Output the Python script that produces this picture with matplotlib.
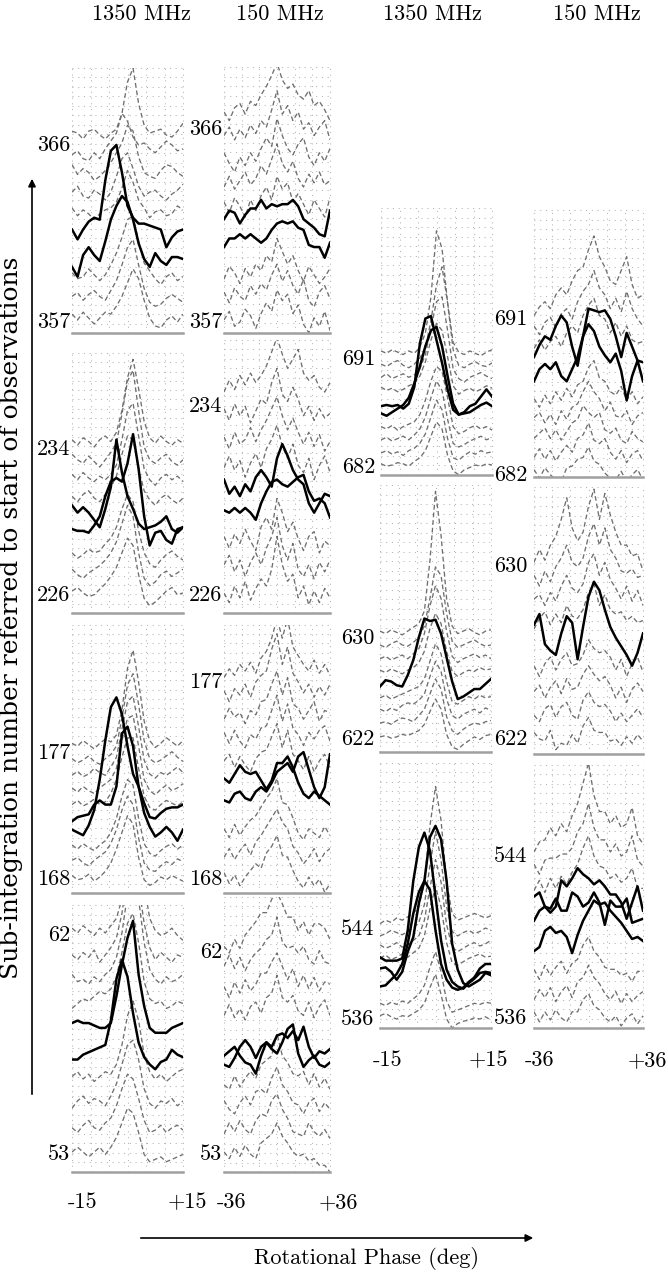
import numpy as np
import matplotlib
import matplotlib.pyplot as plt
from matplotlib.patches import FancyArrowPatch

plt.rcParams['font.family'] = ['cmr10', 'DejaVu Serif']
plt.rcParams['axes.unicode_minus'] = False

W, H = 668, 1277

# ---------------- phase axes (deg) ----------------
phase_1350 = np.linspace(-15, 15, 21)
phase_150 = np.linspace(-36, 36, 21)

# Profiles: values in tenths of a sub-integration unit above the profile's base
# ---------- 357-366, 1350 MHz ----------
a1_base = [357, 358, 359, 362, 363, 364, 365, 366]
a1_dash = [
    [3, 0, 4, 1, -2, 1, 4, 3, 7, 12, 19, 26, 21, 10, 1, -3, -4, 0, 2, -1, 3],
    [2, 4, 0, 3, 5, 2, 0, 5, 10, 18, 27, 31, 18, 6, -1, -3, -2, 1, 3, 1, -1],
    [4, 1, 2, 6, 3, 0, 3, 8, 14, 22, 31, 33, 20, 9, 5, 1, -2, 2, 4, 0, 2],
    [7, 3, 6, 4, 1, 4, 6, 7, 10, 17, 26, 20, 11, 7, 2, 5, 6, 3, 4, 8, 6],
    [5, 8, 3, 2, 6, 4, 1, 5, 13, 22, 25, 17, 8, 3, 5, 6, 3, 1, 4, 6, 9],
    [9, 4, 7, 5, 1, 3, 6, 10, 15, 20, 29, 26, 13, 5, 3, 2, 6, 9, 8, 5, 3],
    [4, 6, 2, 1, 5, 2, 7, 11, 15, 25, 21, 13, 9, 10, 7, 5, 8, 11, 9, 6, 7],
    [6, 5, 2, 6, 7, 4, 2, 5, 7, 15, 31, 38, 20, 9, 5, 6, 7, 4, 3, 6, 10],
]
a1_black_base = [360, 361]
a1_black = [
    [-3, -8, 3, 7, 3, 0, 10, 21, 28, 33, 30, 21, 9, 1, -3, 4, 0, -2, 2, 2, 1],
    [6, 1, 6, 10, 12, 11, 31, 46, 49, 35, 18, 12, 9, 9, 8, 7, 6, -3, 2, 5, 6],
]

# ---------- 357-366, 150 MHz ----------
b1_base = [357, 358, 359, 362, 363, 364, 365, 366]
b1_dash = [
    [0, 4, -3, -1, 5, 2, -4, 3, 8, 4, 14, 9, 12, 3, 7, -2, -6, 1, -3, 4, -5],
    [3, -2, 5, 1, -1, 6, 2, 7, 4, 11, 16, 8, 13, 6, 2, 9, -1, -4, 3, 6, 0],
    [-1, 5, 2, -3, 4, 0, 6, 3, 10, 7, 18, 12, 6, 10, 3, -2, 5, 1, -3, 0, 4],
    [5, 0, 7, 3, -2, 6, 1, 8, 12, 6, 17, 11, 14, 5, 9, 4, -1, 6, 2, -2, 7],
    [2, 7, 1, 5, 9, 3, 6, 12, 8, 15, 22, 13, 9, 14, 6, 2, 8, 4, 9, 3, 5],
    [8, 3, -1, 6, 2, 8, 4, 10, 15, 11, 24, 16, 10, 7, 12, 15, 6, 2, 8, 4, 10],
    [6, 10, 4, 9, 5, 11, 7, 13, 10, 18, 27, 16, 20, 13, 17, 9, 12, 6, 10, 13, 4],
    [7, 3, 9, 11, 6, 12, 10, 15, 19, 24, 30, 22, 18, 20, 15, 13, 17, 10, 12, 8, 3],
]
b1_black_base = [360, 361]
b1_black = [
    [4, 8, 8, 10, 8, 10, 8, 6, 8, 12, 15, 16, 15, 16, 13, 12, 5, 4, 4, -1, 6],
    [7, 11, 10, 5, 9, 12, 12, 16, 12, 14, 13, 14, 14, 16, 13, 7, 5, 3, 0, -1, 11],
]

# ---------- 226-234, 1350 MHz ----------
a2_base = [226, 227, 228, 231, 232, 233, 234]
a2_dash = [
    [1, 3, 0, -2, -1, 2, 5, 9, 14, 22, 30, 26, 10, -3, -7, -5, -2, 1, 3, -1, 0],
    [3, 0, -2, 1, 3, 5, 8, 12, 18, 28, 38, 32, 12, -2, -6, -4, 0, 2, -1, 1, 3],
    [2, -1, 1, 4, 2, 3, 7, 10, 16, 26, 34, 30, 14, 2, -4, -6, -2, 1, 3, 0, -2],
    [3, 0, 4, 6, 2, 0, 4, 8, 14, 26, 36, 34, 18, 6, 1, -2, 2, 4, 1, -1, 2],
    [5, 2, 6, 3, 1, 4, 2, 5, 10, 24, 40, 44, 26, 8, 2, -1, 3, 5, 2, 4, 1],
    [6, 3, 1, 5, 2, -1, 3, 7, 12, 28, 46, 52, 30, 10, 3, 1, 4, 6, 2, 0, 3],
    [4, 1, 5, 3, 0, 4, 6, 3, 8, 20, 38, 48, 32, 14, 5, 2, 6, 3, 1, 4, 2],
]
a2_black_base = [229, 230]
a2_black = [
    [5, 4, 4, 3, 7, 12, 23, 31, 33, 31, 41, 57, 38, 12, -4, 3, 4, -1, -3, 5, 6],
    [8, 4, 7, 4, 0, -4, 6, 18, 44, 26, 13, 6, -2, -5, -4, -3, -1, 2, -5, -7, -4],
]

# ---------- 226-234, 150 MHz ----------
b2_base = [226, 227, 228, 231, 232, 233, 234]
b2_dash = [
    [0, -4, 3, -2, 5, -3, 2, 6, 3, 10, 24, 12, 5, 8, -2, 3, -5, 1, -4, 2, -2],
    [2, 6, -1, 4, -3, 3, 7, 2, 9, 14, 22, 10, 4, 11, 0, -3, 2, -4, 3, -1, 4],
    [4, -1, 5, 1, 7, 2, -2, 8, 12, 7, 20, 14, 6, 10, 3, -2, 4, 6, -3, 2, 0],
    [3, 8, 2, 6, -1, 5, 9, 3, 11, 15, 21, 12, 7, 13, 4, 1, 7, -2, 4, 8, 1],
    [6, 1, 8, 3, 5, 10, 4, 9, 13, 18, 23, 15, 9, 14, 8, 3, 8, 2, 7, 0, 4],
    [8, 3, 10, 5, 9, 2, 7, 12, 10, 19, 25, 14, 11, 17, 12, 5, 9, 3, 8, 4, 6],
    [5, 10, 6, 12, 8, 13, 9, 12, 16, 22, 28, 21, 15, 19, 23, 13, 10, 12, 7, 5, 9],
]
b2_black_base = [229, 230]
b2_black = [
    [5, 4, 6, 4, 6, 4, 1, 8, 13, 17, 18, 16, 15, 17, 19, 20, 13, 9, 10, 8, 2],
    [8, 2, 5, 1, 6, 3, 9, 12, 9, 5, 17, 23, 18, 12, 8, 6, -2, -6, -2, 2, 1],
]

# ---------- 168-177, 1350 MHz ----------
a3_base = [168, 169, 170, 173, 174, 175, 176, 177]
a3_dash = [
    [1, -2, -1, 2, -3, 0, 4, 10, 20, 32, 44, 38, 14, -2, -6, -4, 0, -2, 1, -1, -3],
    [2, 4, 0, -2, 2, 5, 8, 14, 24, 38, 48, 42, 18, 0, -5, -6, -2, 1, -1, 3, 1],
    [3, 0, 4, 1, -1, 3, 6, 12, 22, 38, 50, 46, 22, 4, -3, -5, -1, 2, 4, 0, 3],
    [2, 5, 1, 3, 6, 2, 4, 10, 20, 36, 50, 50, 28, 8, 0, -2, 2, 5, 3, 1, 4],
    [4, 1, 5, 2, 0, 4, 7, 10, 18, 38, 54, 56, 34, 10, 2, -1, 3, 6, 2, 4, 7],
    [3, 6, 2, 4, 8, 5, 3, 9, 16, 36, 56, 60, 38, 14, 4, 1, 5, 3, 6, 9, 5],
    [5, 2, 4, 7, 3, 1, 5, 8, 14, 34, 58, 66, 44, 18, 5, 2, 4, 7, 10, 6, 3],
    [6, 4, 8, 5, 2, 6, 9, 7, 12, 30, 60, 73, 50, 22, 8, 3, 6, 10, 7, 4, 8],
]
a3_black_base = [171, 172]
a3_black = [
    [10, 13, 14, 15, 22, 25, 22, 22, 35, 73, 78, 64, 35, 16, 6, -1, 2, 6, 2, -4, 4],
    [-6, -8, -10, -3, 8, 30, 58, 82, 89, 77, 54, 34, 25, 13, 3, 2, 6, 9, 10, 10, 12],
]

# ---------- 168-177, 150 MHz ----------
b3_base = [168, 169, 170, 173, 174, 175, 176, 177]
b3_dash = [
    [2, -3, 1, -4, 0, 3, 6, 4, 11, 14, 19, 10, 9, 3, -2, -5, 0, -4, -1, -7, -3],
    [-1, 3, -2, 2, 5, 0, 6, 9, 13, 17, 21, 15, 12, 4, 1, -4, -1, 3, -3, 1, 3],
    [2, -2, 4, -1, 3, 6, 8, 12, 16, 19, 25, 14, 13, 7, 0, -3, 2, 0, -2, 3, -1],
    [3, 6, 0, 5, 1, -2, 4, 7, 8, 14, 20, 9, 17, 6, 3, -1, 5, -2, 3, 6, 0],
    [6, 1, 7, 2, -1, 5, 3, 8, 9, 16, 23, 11, 19, 8, 5, 0, 6, 3, 7, 9, 2],
    [2, 7, 3, 5, 0, 6, 4, 10, 11, 18, 24, 13, 21, 9, 7, 2, 6, 10, 1, 6, 5],
    [5, 0, 6, 3, 8, 2, 9, 12, 14, 24, 31, 17, 25, 13, 9, 4, 8, 2, 7, 3, 8],
    [1, 5, 2, 7, 4, 8, 3, 10, 13, 19, 28, 19, 28, 15, 11, 7, 4, 9, 3, 7, 2],
]
b3_black_base = [171, 172]
b3_black = [
    [5, 4, 8, 9, 6, 5, 9, 11, 9, 13, 18, 20, 22, 18, 25, 27, 19, 11, 6, 11, 26],
    [5, 3, 7, 11, 8, 7, 8, 4, 0, 4, 12, 12, 15, 10, 3, -2, -4, -1, -3, -5, -7],
]

# ---------- 53-62, 1350 MHz ----------
a4_base = [53, 54, 55, 56, 59, 60, 61, 62]
a4_dash = [
    [0, 2, 0, -2, 0, 2, -1, 2, 6, 12, 18, 16, 8, -1, -4, -3, -2, -4, -3, -2, -1],
    [0, -2, 1, 3, 0, -1, 2, 4, 9, 16, 22, 20, 12, 3, -2, -1, 1, -2, 0, 1, -1],
    [-2, 1, 3, 0, 2, 1, -1, 3, 8, 16, 24, 26, 18, 6, 0, -2, 1, 0, 2, -1, 1],
    [1, 3, 0, 2, -1, 1, 3, 2, 6, 14, 26, 32, 24, 10, 3, 0, 2, -1, 1, 3, 4],
    [-1, 1, 3, 2, 4, 6, 5, 7, 12, 22, 34, 38, 26, 10, 3, 1, 2, -1, 0, 2, 1],
    [3, 0, 1, -1, 2, 0, 3, 5, 10, 20, 36, 42, 34, 16, 5, 1, -1, 2, 0, 1, 3],
    [1, -1, 2, 0, 3, -2, 1, 4, 8, 18, 34, 40, 30, 14, 4, -1, 2, 0, -2, 1, 0],
    [2, 0, 3, 1, -1, 2, 0, 3, 6, 14, 30, 45, 38, 20, 6, 1, -1, 0, 2, -1, -3],
]
a4_black_base = [57, 58]
a4_black = [
    [-2, -2, 0, 1, 2, 3, 4, 14, 31, 39, 32, 17, 5, -1, -4, -6, -3, -2, 2, 0, -1],
    [3, 4, 3, 3, 2, 1, 1, 3, 14, 27, 38, 45, 23, 10, 1, -1, -1, -1, 1, 2, 3],
]

# ---------- 53-62, 150 MHz ----------
b4_base = [53, 54, 55, 56, 59, 60, 61, 62]
b4_dash = [
    [0, -3, 2, -2, 3, -1, -3, 4, 6, 8, 13, 7, 4, 0, -2, -1, -4, -3, -6, -6, -9],
    [-2, 3, -1, 4, 0, -2, 4, 7, 6, 13, 16, 9, 5, -1, -2, -3, 3, -1, -3, 0, -4],
    [3, -1, -3, 2, 5, 1, 7, 8, 6, 13, 18, 10, 7, 2, 1, -3, 2, 4, -2, 2, -1],
    [0, -2, 4, -1, 3, 6, 3, 9, 11, 13, 23, 13, 10, 5, 4, 6, 0, 5, -1, 3, -2],
    [1, 6, 0, 4, -1, 5, 7, 2, 9, 11, 19, 9, 7, 10, 3, 1, 7, 0, 5, 8, 1],
    [4, -1, 6, 1, 7, 2, 5, 10, 10, 15, 19, 13, 7, 12, 4, 9, 3, 8, 2, 6, 5],
    [3, 8, 2, 7, 1, 6, 9, 11, 15, 17, 25, 14, 11, 12, 9, 12, 6, 4, 10, 5, 4],
    [2, -1, 5, 1, 7, 10, 13, 17, 17, 23, 26, 21, 15, 15, 9, 13, 7, 12, 12, 10, 5],
]
b4_black_base = [57, 58]
b4_black = [
    [-1, -2, 2, 7, 10, 7, 2, 7, 9, 7, 12, 13, 11, 14, 10, 16, 7, 2, 5, 4, 6],
    [-7, -5, -3, -7, -10, -11, -15, -7, -1, -4, -6, -1, 5, 7, -6, -12, -9, -7, -11, -12, -10],
]

# ---------- 682-691, 1350 MHz ----------
c1_base = [682, 683, 684, 685, 688, 689, 690, 691]
c1_dash = [
    [1, -1, 0, 2, 1, -1, 3, 6, 12, 24, 36, 30, 8, -5, -8, -4, -2, 0, -1, 1, 0],
    [0, 2, -1, 1, -2, 2, 4, 8, 16, 30, 44, 36, 12, -4, -6, -2, 1, -1, 2, 0, 1],
    [1, 3, 0, 2, 4, 1, 5, 10, 20, 36, 50, 42, 18, -2, -5, -3, 0, 2, 4, 1, 3],
    [2, 0, 3, -1, 2, 4, 6, 12, 24, 40, 52, 48, 26, 2, -4, -2, 1, 3, 0, 2, -1],
    [5, 2, 4, 1, 3, 6, 8, 14, 26, 44, 58, 52, 30, 6, -1, 2, 4, 1, 3, 6, 4],
    [3, 6, 2, 4, 6, 3, 5, 10, 22, 44, 66, 70, 42, 10, 2, -1, 3, 5, 7, 4, 2],
    [4, 2, 5, 7, 3, 1, 4, 9, 18, 40, 70, 85, 55, 16, 3, 1, 4, 6, 3, 2, 5],
    [5, 3, 6, 4, 2, 5, 3, 8, 20, 50, 105, 90, 45, 12, 4, 2, 5, 3, 1, 4, 6],
]
c1_black_base = [686, 687]
c1_black = [
    [3, 1, 4, 7, 10, 16, 28, 42, 59, 72, 75, 59, 34, 11, 2, 3, 4, 7, 10, 12, 9],
    [-1, 0, -1, 0, -3, 1, 15, 51, 72, 74, 54, 35, 13, -4, -8, -6, -1, 1, 7, 13, 7],
]

# ---------- 682-691, 150 MHz ----------
d1_base = [682, 683, 684, 685, 686, 689, 690, 691]
d1_dash = [
    [2, -3, 3, -1, -4, -5, 3, 4, 8, 9, 15, 7, 5, 0, -3, -4, 1, -5, -1, 2, -4],
    [-1, 4, -2, 3, -3, 2, 6, 2, 10, 12, 19, 9, 7, 10, 2, -2, 3, -4, 1, 3, -3],
    [0, 3, 6, 0, 5, -1, 4, 9, 11, 19, 15, 12, 15, 5, 3, 6, -1, -3, 4, 0, -2],
    [2, 5, -1, 4, -2, 6, 1, 8, 10, 17, 23, 17, 13, 6, 11, 3, 2, 6, -2, 3, 5],
    [3, -2, 5, 0, 7, 2, 9, 4, 11, 13, 21, 25, 15, 13, 7, 5, 10, 2, 7, 0, 4],
    [2, 7, 1, 6, 9, 3, 11, 15, 11, 21, 27, 31, 21, 19, 11, 17, 9, 15, 7, 5, 6],
    [5, 0, 7, 10, 4, 12, 15, 9, 19, 25, 29, 37, 27, 23, 15, 21, 13, 25, 15, 9, 5],
    [1, 6, 9, 5, 13, 17, 13, 21, 27, 29, 39, 47, 35, 29, 21, 19, 27, 35, 19, 11, 13],
]
d1_black_base = [687, 688]
d1_black = [
    [3, 10, 13, 10, 14, 6, 3, 10, 17, 29, 36, 32, 23, 18, 14, 19, 9, -8, 6, 15, 3],
    [7, 14, 19, 17, 25, 31, 27, 13, 2, 19, 35, 34, 33, 34, 29, 19, 7, 21, 13, 5, 4],
]

# ---------- 622-630, 1350 MHz ----------
c2_base = [622, 623, 624, 625, 627, 628, 629, 630]
c2_dash = [
    [0, 1, -1, 0, 2, 1, 3, 5, 10, 20, 30, 22, 2, -8, -10, -6, -3, 0, -2, 1, 2],
    [1, 2, 0, 3, 5, 4, 2, 7, 12, 24, 36, 28, 6, -5, -8, -4, -1, 1, 0, 2, 3],
    [2, 0, 3, 1, 5, 7, 6, 9, 14, 28, 40, 32, 10, -3, -6, -2, 0, 2, -1, 3, 1],
    [1, 3, 0, 2, 4, 6, 8, 10, 16, 30, 44, 36, 14, -2, -4, -1, 2, 0, 3, 1, 2],
    [3, 1, 4, 2, 0, 3, 5, 9, 18, 36, 48, 40, 18, 2, -2, 1, 3, 2, 5, 3, 4],
    [2, 4, 1, 3, 5, 2, 6, 10, 22, 44, 60, 50, 24, 4, -1, 2, 4, 6, 3, 5, 2],
    [3, 1, 4, 6, 3, 2, 5, 9, 18, 40, 65, 58, 28, 6, 1, 3, 5, 7, 4, 2, 3],
    [4, 2, 5, 3, 1, 4, 7, 10, 20, 60, 115, 80, 30, 8, 2, 4, 6, 3, 1, 4, 5],
]
c2_black_base = [626]
c2_black = [
    [0, 5, 4, 1, 0, 9, 21, 39, 54, 52, 53, 42, 23, 4, -10, -8, -5, -2, -2, 2, 6],
]

# ---------- 622-630, 150 MHz ----------
d2_base = [622, 623, 624, 625, 627, 628, 629, 630]
d2_dash = [
    [2, -1, -2, 3, -6, -3, -4, 1, -3, 5, 9, 3, 2, 2, -2, -1, -4, 0, -3, 1, -2],
    [0, -3, 3, 5, -1, 4, 6, 0, -2, 7, 11, 6, 4, 5, 2, -3, 1, -3, 0, 3, -1],
    [1, 4, -2, 3, 6, 0, 7, 2, 3, 9, 13, 9, 6, 8, 4, -2, 3, -4, 2, 5, 1],
    [3, -2, 4, 7, 1, 6, 9, 3, 4, 8, 15, 11, 9, 10, 7, 1, 6, -2, 4, 7, 0],
    [0, 5, 8, 2, 7, 3, 11, 6, 5, 9, 17, 21, 11, 16, 9, 7, 8, 4, 6, 3, 4],
    [4, 6, 1, 7, 3, 10, 15, 9, 7, 11, 21, 25, 15, 21, 13, 9, 4, 10, 3, 8, 1],
    [5, 0, 7, 2, 9, 13, 19, 11, 9, 13, 23, 29, 19, 27, 17, 13, 7, 6, 8, 4, 5],
    [1, 7, 2, 9, 13, 21, 31, 17, 11, 15, 27, 35, 21, 33, 23, 15, 9, 9, 4, 5, -3],
]
d2_black_base = [626]
d2_black = [
    [12, 17, 3, 0, -2, 8, 16, 13, -4, 11, 25, 32, 28, 19, 11, 6, 2, -2, -7, -1, 8],
]

# ---------- 536-544, 1350 MHz ----------
c3_base = [536, 537, 541, 542, 543, 544]
c3_dash = [
    [1, 3, 0, -2, 1, 0, 3, 6, 12, 26, 38, 20, -2, -10, -6, -4, -3, -1, -2, 0, -3],
    [2, 0, 3, 1, 4, 2, 6, 10, 18, 34, 48, 30, 4, -6, -4, -2, 0, 2, 1, 3, 2],
    [2, 5, 1, 3, 6, 3, 7, 11, 22, 46, 66, 48, 16, -2, -4, -1, 2, 4, 6, 3, 4],
    [4, 1, 3, 6, 2, 4, 8, 12, 26, 55, 80, 60, 22, 2, -2, 1, 4, 6, 3, 5, 8],
    [2, 4, 7, 5, 3, 6, 9, 14, 30, 65, 95, 70, 28, 6, 2, 5, 7, 4, 6, 9, 7],
    [3, 6, 4, 8, 6, 9, 12, 18, 40, 90, 125, 95, 40, 12, 6, 8, 10, 12, 10, 8, 10],
]
c3_black_base = [538, 539, 540]
c3_black = [
    [7, 8, 13, 18, 27, 45, 72, 91, 101, 93, 57, 27, 13, 6, 4, 6, 11, 15, 23, 27, 27],
    [13, 14, 10, 3, 10, 28, 41, 71, 91, 130, 140, 128, 91, 35, 12, 0, -3, 0, 3, 9, 7],
    [13, 10, 10, 10, 12, 37, 81, 111, 124, 108, 67, 28, 2, -9, -13, -15, -10, -6, -1, 0, -1],
]

# ---------- 536-544, 150 MHz ----------
d3_base = [536, 537, 538, 542, 543, 544]
d3_dash = [
    [2, -3, 2, -2, 3, -1, -3, 2, 2, 8, 11, 5, 3, -1, -3, 0, -5, -1, 1, -4, 0],
    [-2, 3, -1, 4, -3, 2, 5, -1, 7, 9, 15, 9, 6, 1, -2, 2, -4, 1, -3, 0, 2],
    [3, -2, 5, 0, 4, 7, 1, 6, 8, 15, 19, 12, 9, 4, 3, 3, 0, 1, -3, 2, 2],
    [2, 7, 1, 8, 3, 9, 5, 11, 15, 23, 29, 19, 14, 13, 8, 10, 6, 8, 13, 3, 3],
    [5, 0, 7, 8, 8, 10, 10, 13, 21, 25, 35, 23, 17, 17, 11, 15, 9, 11, 19, 7, 4],
    [1, 6, 7, 13, 9, 15, 11, 19, 25, 35, 45, 29, 21, 21, 15, 19, 13, 15, 23, 9, 5],
]
d3_black_base = [539, 540, 541]
d3_black = [
    [2, 4, 12, 14, 11, 12, 9, 1, 10, 17, 22, 27, 25, 26, 22, 19, 16, 12, 8, 9, 7],
    [7, 12, 14, 13, 18, 12, 12, 21, 19, 14, 16, 21, 16, 5, 17, 14, 14, 18, 6, 7, 8],
    [9, 11, 4, 1, 4, 17, 14, 18, 23, 20, 18, 15, 17, 14, 10, 10, 6, -2, 6, 14, 2],
]

# tick labels (sub-integration numbers shown on each panel)
ticks_a1 = [357, 366]; ticks_b1 = [357, 366]
ticks_a2 = [226, 234]; ticks_b2 = [226, 234]
ticks_a3 = [168, 177]; ticks_b3 = [168, 177]
ticks_a4 = [53, 62];   ticks_b4 = [53, 62]
ticks_c1 = [682, 691]; ticks_d1 = [682, 691]
ticks_c2 = [622, 630]; ticks_d2 = [622, 630]
ticks_c3 = [536, 544]; ticks_d3 = [536, 544]

col_titles = ['1350 MHz', '150 MHz', '1350 MHz', '150 MHz']
phase_labels_1350 = ['-15', '+15']
phase_labels_150 = ['-36', '+36']

# ---------------- layout (pixel boxes: x0, x1, ytop, ybot), y-limits ----------------
panels = [
    (a1_base, a1_dash, a1_black_base, a1_black, ticks_a1, phase_1350, (72, 183, 68, 333), (356.34, 369.81), 1),
    (b1_base, b1_dash, b1_black_base, b1_black, ticks_b1, phase_150, (224, 330, 67, 333), (356.39, 368.8), 1),
    (a2_base, a2_dash, a2_black_base, a2_black, ticks_a2, phase_1350, (72, 183, 353, 613), (224.9, 239.15), 1),
    (b2_base, b2_dash, b2_black_base, b2_black, ticks_b2, phase_150, (224, 330, 340, 613), (225.16, 236.7), 1),
    (a3_base, a3_dash, a3_black_base, a3_black, ticks_a3, phase_1350, (72, 183, 625, 893), (166.85, 186.1), 1),
    (b3_base, b3_dash, b3_black_base, b3_black, ticks_b3, phase_150, (224, 330, 625, 893), (167.27, 179.5), 1),
    (a4_base, a4_dash, a4_black_base, a4_black, ticks_a4, phase_1350, (72, 183, 905, 1172), (52.18, 63.15), 1),
    (b4_base, b4_dash, b4_black_base, b4_black, ticks_b4, phase_150, (224, 330, 897, 1172), (52.1, 64.4), 1),
    (c1_base, c1_dash, c1_black_base, c1_black, ticks_c1, phase_1350, (381, 492, 208, 475), (681.17, 703.4), 4),
    (d1_base, d1_dash, d1_black_base, d1_black, ticks_d1, phase_150, (534, 643, 210, 477), (681.77, 697.2), 5),
    (c2_base, c2_dash, c2_black_base, c2_black, ticks_c2, phase_1350, (380, 491, 485, 752), (620.8, 642.0), 4),
    (d2_base, d2_dash, d2_black_base, d2_black, ticks_d2, phase_150, (534, 643, 487, 754), (621.2, 633.6), 5),
    (c3_base, c3_dash, c3_black_base, c3_black, ticks_c3, phase_1350, (380, 491, 763, 1028), (535.0, 558.6), 4),
    (d3_base, d3_dash, d3_black_base, d3_black, ticks_d3, phase_150, (534, 643, 765, 1028), (535.4, 548.4), 5),
]

fig = plt.figure(figsize=(W / 100, H / 100), dpi=100)
FS = 16
grid_col = '#b4b4b4'
dot = (0, (1, 4.5))

for base, dash, bbase, black, ticks, phase, box, ylim, pad in panels:
    x0, x1, yt, yb = box
    ax = fig.add_axes([x0 / W, 1 - yb / H, (x1 - x0) / W, (yb - yt) / H])
    ax.set_xlim(phase[0], phase[-1])
    ax.set_ylim(*ylim)
    # dotted grid
    for xv in np.linspace(phase[0], phase[-1], 7):
        ax.plot([xv, xv], [0, 1], transform=ax.get_xaxis_transform(), color=grid_col,
                lw=0.75, ls=dot, zorder=0, clip_on=False)
    n = int(round((yb - yt) / 9.4))
    for f in np.linspace(0, 1, n + 1)[1:]:
        ax.plot([0, 1], [f, f], transform=ax.transAxes, color=grid_col, lw=0.75, ls=dot,
                zorder=0, clip_on=False)
    for b, v in zip(base, dash):
        ax.plot(phase, b + np.array(v) / 10.0, color='#6f6f6f', lw=0.95, ls=(0, (3.6, 2.2)), zorder=2)
    for b, v in zip(bbase, black):
        ax.plot(phase, b + np.array(v) / 10.0, color='black', lw=1.8, zorder=3,
                solid_joinstyle='round')
    for s in ['top', 'right', 'left']:
        ax.spines[s].set_visible(False)
    ax.spines['bottom'].set_color('#a0a0a0')
    ax.spines['bottom'].set_linewidth(1.8)
    ax.set_xticks([])
    ax.set_yticks(ticks)
    ax.set_yticklabels([str(t) for t in ticks], fontsize=FS)
    ax.tick_params(axis='y', length=0, pad=pad)
    ax.patch.set_alpha(0)


def fx(x):
    return x / W


def fy(y):
    return 1 - y / H


for t, x in zip(col_titles, [141, 280, 432, 597]):
    fig.text(fx(x), fy(14), t, ha='center', va='center', fontsize=FS)

for lab, x in zip(phase_labels_1350 + phase_labels_150, [83, 187, 232, 338]):
    fig.text(fx(x), fy(1202), lab, ha='center', va='center', fontsize=FS)
for lab, x in zip(phase_labels_1350 + phase_labels_150, [388, 488, 540, 647]):
    fig.text(fx(x), fy(1060), lab, ha='center', va='center', fontsize=FS)

fig.text(fx(366), fy(1259), 'Rotational Phase (deg)', ha='center', va='center', fontsize=FS)
fig.text(fx(12), fy(618), 'Sub-integration number referred to start of observations',
         ha='center', va='center', rotation=90, fontsize=18, family=['DejaVu Serif'])

fig.add_artist(FancyArrowPatch((fx(32), fy(1097)), (fx(32), fy(176)), transform=fig.transFigure,
                               arrowstyle='-|>', mutation_scale=11, lw=1.2, color='black'))
fig.add_artist(FancyArrowPatch((fx(138), fy(1238)), (fx(536), fy(1238)), transform=fig.transFigure,
                               arrowstyle='-|>', mutation_scale=11, lw=1.2, color='black'))

fig.savefig('out.png', dpi=100)
